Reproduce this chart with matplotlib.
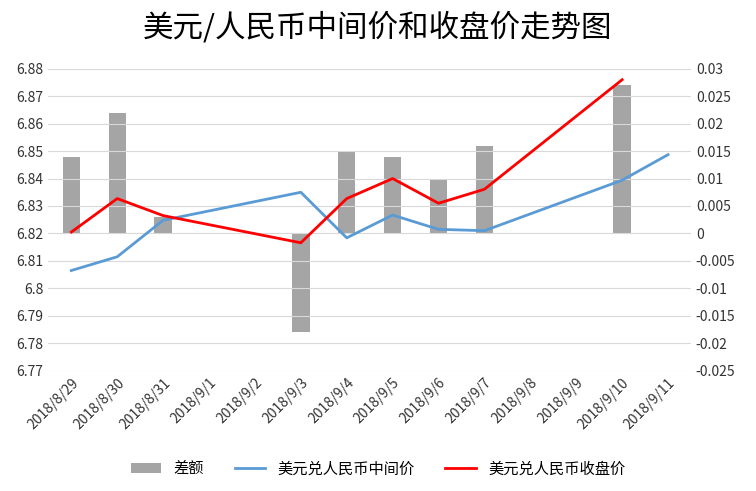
import matplotlib
matplotlib.use("Agg")
import matplotlib.pyplot as plt
import numpy as np

plt.rcParams['font.family'] = ['Noto Sans CJK SC', 'DejaVu Sans']

dates = ['2018/8/29','2018/8/30','2018/8/31','2018/9/1','2018/9/2','2018/9/3','2018/9/4',
         '2018/9/5','2018/9/6','2018/9/7','2018/9/8','2018/9/9','2018/9/10','2018/9/11']
diff = [0.014, 0.022, 0.003, np.nan, np.nan, -0.018, 0.015, 0.014, 0.010, 0.016, np.nan, np.nan, 0.027, np.nan]
mid = [6.8065, 6.8115, 6.8248, np.nan, np.nan, 6.8350, 6.8184, 6.8267, 6.8215, 6.8210, np.nan, np.nan, 6.8394, 6.8487]
close = [6.8205, 6.8327, 6.8265, np.nan, np.nan, 6.8166, 6.8327, 6.8400, 6.8310, 6.8361, np.nan, np.nan, 6.8760, np.nan]

fig = plt.figure(figsize=(7.56, 4.91), dpi=100)
ax = fig.add_axes([0.064, 0.245, 0.85, 0.615])
ax2 = ax.twinx()
x = np.arange(len(dates))
d = np.array(diff)
ax2.bar(x, np.nan_to_num(d), width=0.38, color='#a5a5a5', label='差额')
m = np.array(mid); c = np.array(close)
mk = ~np.isnan(m); ck = ~np.isnan(c)
ax.plot(x[mk], m[mk], color='#5b9bd5', lw=2, label='美元兑人民币中间价')
ax.plot(x[ck], c[ck], color='#ff0000', lw=2, label='美元兑人民币收盘价')
ax.set_zorder(ax2.get_zorder()+1); ax.patch.set_visible(False)

ax.set_ylim(6.77, 6.88)
ax.set_yticks(np.arange(6.77, 6.8801, 0.01))
ax.set_yticklabels([f'{v:.2f}'.rstrip('0').rstrip('.') if f'{v:.2f}'.endswith('0') else f'{v:.2f}' for v in np.arange(6.77, 6.8801, 0.01)])
ax2.set_ylim(-0.025, 0.03)
t2 = np.arange(-0.025, 0.0301, 0.005)
ax2.set_yticks(t2)
ax2.set_yticklabels(['0' if abs(v) < 1e-9 else f'{v:g}' for v in np.round(t2, 3)])
ax.set_xlim(-0.5, len(dates)-0.5)
ax.set_xticks(x)
ax.set_xticklabels(dates, rotation=45, ha='right', rotation_mode='anchor')
ax.grid(axis='y', color='#d9d9d9', lw=0.8)
ax.set_axisbelow(True)
for a in (ax, ax2):
    for s in a.spines.values(): s.set_visible(False)
    a.tick_params(length=0, labelsize=10, colors='#333333')
ax.tick_params(axis='x', labelsize=10)
fig.suptitle('美元/人民币中间价和收盘价走势图', fontsize=22, y=0.975)
h1, l1 = ax2.get_legend_handles_labels()
h2, l2 = ax.get_legend_handles_labels()
fig.legend(h1+h2, l1+l2, loc='lower center', ncol=3, frameon=False, fontsize=11, bbox_to_anchor=(0.5, 0.0))
fig.savefig('out.png')
